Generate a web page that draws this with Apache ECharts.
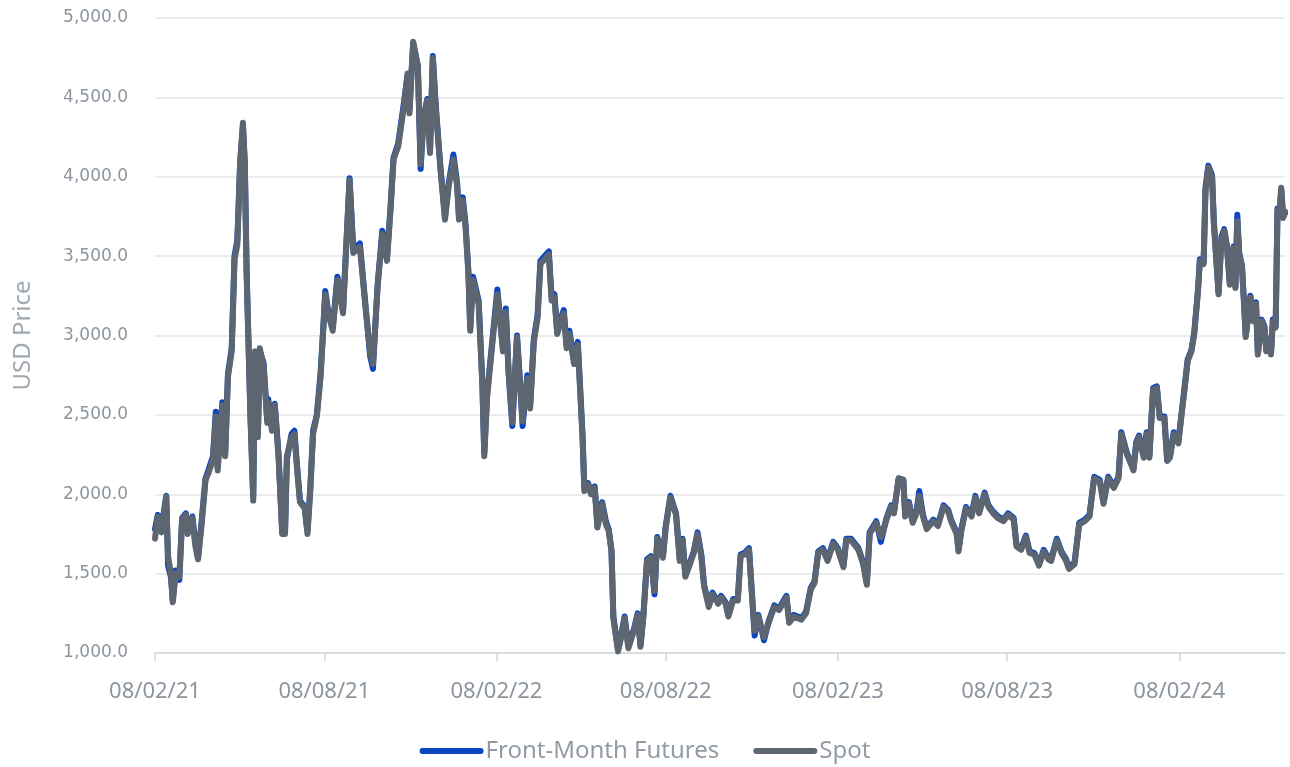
<!DOCTYPE html>
<html>
<head>
<meta charset="utf-8">
<script src="https://cdn.jsdelivr.net/npm/echarts@6/dist/echarts.min.js"></script>
<style>
  html, body { margin: 0; padding: 0; background: #ffffff; }
  #chart { width: 1290px; height: 767px; }
</style>
</head>
<body>
<div id="chart"></div>
<script>
// Days elapsed since 08/02/21 (8 Feb 2021) for every sampled point
const days = [0,3,7,12,14,17,19,22,26,29,33,35,40,43,46,50,54,57,62,65,67,72,75,78,82,85,88,91,94,96,98,102,105,107,110,112,116,120,121,125,128,132,136,139,141,146,149,152,155,160,163,166,169,173,177,180,182,185,190,195,
201,208,212,219,225,230,233,238,243,248,252,255,260,266,270,272,276,281,284,287,291,294,297,300,305,310,314,319,323,325,329,332,335,337,340,346,350,352,355,362,366,372,375,378,382,387,390,393,398,401,405,409,412,418,421,424,427,430,434,437,440,443,448,452,454,457,459,463,466,470,473,478,482,485,488,490,495,498,502,506,512,516,519,522,526,530,534,537,543,546,551,557,561,564,567,573,576,580,584,587,592,596,602,605,610,613,618,623,626,630,635,639,641,645,651,656,662,667,675,678,683,691,696,701,705,709,714,719,725,730,736,739,744,752,757,761,764,771,776,782,787,790,795,800,802,806,810,814,817,821,825,832,837,843,848,851,857,859,862,867,873,877,881,887,891,896,901,907,912,918,921,926,931,935,940,945,950,955,958,964,969,974,977,983,988,994,999,1004,1010,1014,1019,1025,1030,1033,1039,1042,1046,1049,1052,1057,1060,1063,1067,1071,1074,1079,1082,1085,1089,1094,1097,1100,1104,1108,1111,1115,1117,1121,1123,1126,1130,1132,1137,1140,1143,1146,1149,1153,1155,1157,1159,1162,1164,1166,1169,1171,1174,1177,1179,1183,1186,1188,1191,1193,1195,1198,1200,1202,1204,1206,1208];

// Spot price, USD
const spot = [1720,1860,1760,1985,1610,1500,1320,1500,1480,1840,1870,1750,1850,1680,1590,1820,2090,2130,2220,2490,2150,2560,2240,2740,2900,3480,3570,4090,4340,4070,3370,2490,1960,2900,2360,2920,2810,2450,2580,2400,2560,2240,1750,1750,2240,2360,2380,2150,1950,1910,1750,2020,2380,2490,2740,3050,3260,3140,3030,3350,
3140,3980,3520,3560,3180,2890,2820,3310,3640,3470,3810,4110,4190,4440,4650,4400,4850,4690,4080,4360,4480,4150,4750,4440,4060,3730,3940,4110,3940,3730,3850,3680,3390,3030,3350,3200,2680,2240,2610,3030,3260,2900,3150,2780,2450,2990,2710,2460,2730,2540,2960,3110,3450,3490,3510,3220,3240,3010,3090,3140,2920,3010,2820,2940,2710,2360,2020,2060,2000,2040,1790,1940,1810,1770,1640,1220,1010,1090,1220,1030,1140,1240,1040,1220,1580,1600,1390,1720,1600,1790,1980,1870,1580,1710,1480,1580,1630,1750,1610,1420,1290,1370,1310,1350,1310,1230,1330,1330,1610,1620,1650,1290,1140,1230,1100,1190,1290,1270,1350,1190,1230,1210,1250,1400,1440,1630,1650,1580,1690,1650,1540,1710,1710,1650,1560,1430,1750,1820,1730,1840,1920,1880,2100,2090,1860,1940,1820,1880,1990,1860,1780,1830,1800,1920,1890,1830,1750,1640,1770,1910,1860,1980,1880,2000,1920,1880,1850,1830,1870,1840,1670,1650,1730,1630,1620,1550,1640,1590,1580,1710,1630,1580,1530,1560,1810,1830,1860,2100,2080,1940,2100,2040,2100,2380,2250,2210,2150,2320,2360,2230,2380,2230,2660,2670,2480,2480,2210,2230,2380,2320,2480,2630,2840,2900,3010,3280,3470,3450,3910,4060,4000,3700,3260,3600,3660,3550,3320,3550,3300,3720,3510,3430,3220,2990,3130,3240,3090,3200,2880,3090,3050,2900,2970,2880,3090,3050,3790,3760,3930,3740,3780];

// Front-month futures price, USD
const futures = [1780,1870,1790,1990,1550,1480,1330,1520,1460,1850,1880,1770,1860,1700,1600,1840,2100,2150,2240,2520,2170,2580,2250,2760,2920,3500,3600,4080,4320,4090,3400,2510,1990,2880,2380,2900,2830,2470,2600,2420,2570,2260,1760,1770,2220,2380,2400,2170,1960,1920,1770,2040,2400,2500,2760,3060,3280,3160,3050,3370,
3160,3990,3540,3580,3190,2870,2790,3320,3660,3490,3830,4120,4210,4460,4640,4420,4840,4700,4050,4370,4490,4170,4760,4460,4070,3750,3960,4140,3960,3750,3870,3700,3410,3050,3370,3220,2700,2260,2630,3050,3290,2920,3170,2760,2430,3000,2730,2430,2750,2560,2980,3130,3470,3510,3530,3240,3260,3020,3110,3160,2940,3030,2840,2960,2730,2380,2040,2070,2010,2050,1800,1950,1830,1780,1650,1230,1020,1100,1230,1050,1150,1250,1050,1230,1590,1610,1370,1730,1610,1800,1990,1880,1590,1720,1490,1590,1640,1760,1620,1430,1300,1380,1320,1360,1320,1240,1340,1340,1620,1630,1660,1300,1110,1240,1080,1200,1300,1280,1360,1200,1240,1220,1260,1410,1450,1640,1660,1590,1700,1660,1550,1720,1720,1660,1570,1440,1760,1830,1700,1850,1930,1890,2100,2090,1870,1950,1830,1890,2020,1870,1790,1840,1810,1930,1900,1840,1760,1650,1780,1920,1870,1990,1890,2010,1930,1890,1860,1840,1880,1850,1680,1660,1740,1640,1630,1560,1650,1600,1590,1720,1640,1590,1540,1570,1820,1840,1870,2110,2090,1950,2110,2050,2110,2390,2260,2220,2160,2330,2370,2240,2390,2240,2670,2680,2490,2490,2220,2240,2390,2330,2490,2640,2850,2910,3020,3290,3480,3460,3930,4070,4010,3710,3270,3620,3670,3560,3330,3560,3310,3760,3520,3440,3230,3000,3140,3250,3100,3210,2890,3100,3060,2910,2980,2890,3100,3060,3800,3770,3920,3750,3770];

// Tick positions (days since 08/02/21) and their labels
const tickDays = [0, 181, 365, 546, 730, 911, 1095];
const tickLabels = ['08/02/21', '08/08/21', '08/02/22', '08/08/22', '08/02/23', '08/08/23', '08/02/24'];

const yMin = 1000, yMax = 5000, yStep = 500;

function pairs(vals) { return days.map((d, i) => [d, vals[i]]); }
function fmtY(v) {
  const s = Math.round(v).toString().replace(/\B(?=(\d{3})+(?!\d))/g, ',');
  return s + '.0';
}

const chart = echarts.init(document.getElementById('chart'), null, { renderer: 'canvas' });
chart.setOption({
  animation: false,
  backgroundColor: '#ffffff',
  grid: { left: 155, right: 5, top: 18, bottom: 114, containLabel: false },
  legend: {
    bottom: -1,
    left: 'center',
    itemWidth: 64,
    itemHeight: 6,
    itemGap: 34,
    icon: 'path://M3,0 H61 A3,3 0 0 1 61,6 H3 A3,3 0 0 1 3,0 Z',
    textStyle: { fontFamily: 'Noto Sans', fontSize: 24, color: '#939ba4', padding: [0, 0, 0, -3] },
    data: ['Front-Month Futures', 'Spot']
  },
  xAxis: {
    type: 'value',
    min: 0,
    max: days[days.length - 1],
    splitLine: { show: false },
    axisLine: { show: true, lineStyle: { color: '#d6d6d6', width: 1.5 } },
    axisTick: { show: true, length: 8, customValues: tickDays, lineStyle: { color: '#d6d6d6', width: 1.5 } },
    axisLabel: {
      show: true,
      customValues: tickDays,
      margin: 24,
      verticalAlign: 'top',
      lineHeight: 26,
      padding: [2, 0, 0, 0],
      fontFamily: 'Noto Sans',
      fontSize: 22,
      color: '#8c959e',
      formatter: function (v) {
        const i = tickDays.indexOf(Math.round(v));
        return i >= 0 ? tickLabels[i] : '';
      }
    }
  },
  yAxis: {
    type: 'value',
    min: yMin,
    max: yMax,
    interval: yStep,
    name: 'USD Price',
    nameLocation: 'middle',
    nameGap: 120,
    nameTextStyle: { fontFamily: 'Noto Sans', fontSize: 24, color: '#a0a8b0' },
    axisLine: { show: false },
    axisTick: { show: false },
    splitLine: { lineStyle: { color: '#e6e6e6', width: 1.5 } },
    axisLabel: { margin: 27, fontFamily: 'DejaVu Sans', fontSize: 17, color: '#8c959e', formatter: fmtY }
  },
  series: [
    {
      name: 'Front-Month Futures',
      type: 'line',
      data: pairs(futures),
      showSymbol: false,
      symbol: 'none',
      itemStyle: { color: '#0a45c2' },
      lineStyle: { color: '#0a45c2', width: 6, cap: 'round', join: 'round' },
      z: 2
    },
    {
      name: 'Spot',
      type: 'line',
      data: pairs(spot),
      showSymbol: false,
      symbol: 'none',
      itemStyle: { color: '#5d6670' },
      lineStyle: { color: '#5d6670', width: 6, cap: 'round', join: 'round' },
      z: 3
    }
  ]
});
</script>
</body>
</html>
